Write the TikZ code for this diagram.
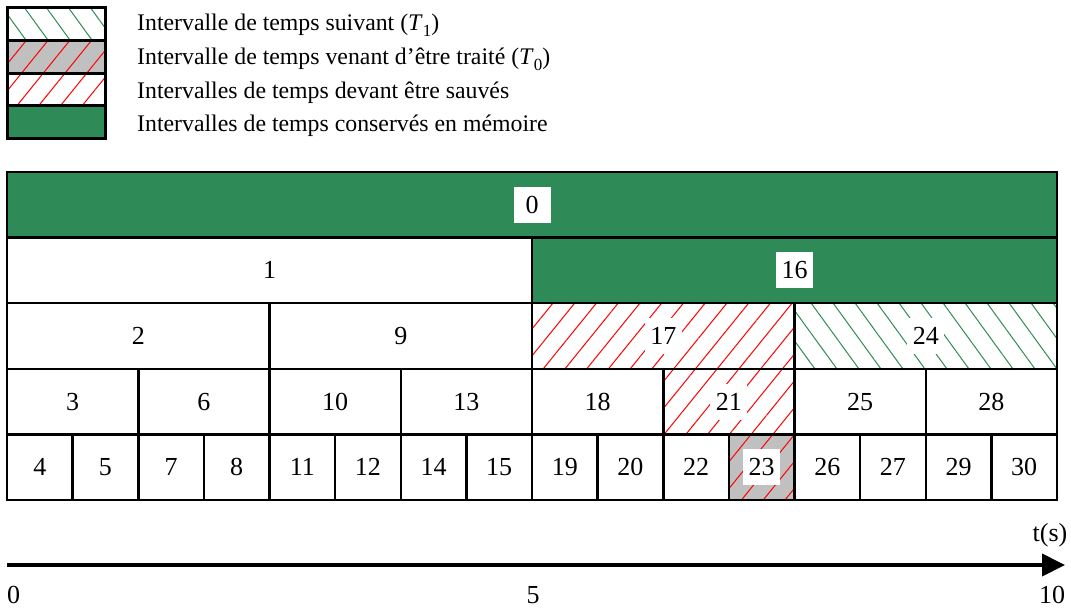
\documentclass[tikz,border=0pt]{standalone}
\usepackage{fontspec}
\setmainfont{Liberation Serif}
\usetikzlibrary{patterns.meta,arrows.meta}
\definecolor{memgreen}{HTML}{2E8B57}
\definecolor{tgrey}{HTML}{C0C0C0}
\tikzset{
  cellbox/.style={draw=black, line width=2.5pt, minimum height=65.6pt, inner sep=0pt, outer sep=0pt},
  lab/.style={fill=white, inner sep=1pt, minimum width=37pt, minimum height=36pt, font=\fontsize{26}{30}\selectfont},
  kept/.style={fill=memgreen},
  saved/.style={pattern={Lines[angle=51,distance=16.9pt,line width=1pt]}, pattern color=red},
  nexthatch/.style={pattern={Lines[angle=-54,distance=17.8pt,line width=1pt]}, pattern color=memgreen},
  done/.style={preaction={fill=tgrey}, pattern={Lines[angle=51,distance=16.9pt,line width=1pt]}, pattern color=red},
  legbox/.style={draw=black, line width=3pt, minimum width=98pt, minimum height=32.6pt, inner sep=0pt},
  legtext/.style={anchor=west, inner sep=0pt, text height=17pt, text depth=5pt, font=\fontsize{23.8}{28}\selectfont},
  axlab/.style={inner sep=0pt, font=\fontsize{26}{30}\selectfont},
}
\newcommand\mycell[6]{%
  \node[cellbox, minimum width={#3*65.625pt}, #5] (c#1) at ({7+(#2+#3/2)*65.625},{172+(#4+0.5)*65.6}) {};
  \node[lab] (l#1) at (c#1) {#6};
}
\begin{document}
\begin{tikzpicture}[x=1pt,y=-1pt]
\useasboundingbox (0,0) rectangle (1071,610);
% legend
\node[legbox, nexthatch] (k1) at (56.5,24.3) {};
\node[legbox, done] (k2) at (56.5,56.9) {};
\node[legbox, saved] (k3) at (56.5,89.5) {};
\node[legbox, kept] (k4) at (56.5,122.1) {};
\node[legtext] (t1) at (137,25) {Intervalle de temps suivant (\textit{T}\raisebox{-0.22em}{\fontsize{17}{17}\selectfont 1})};
\node[legtext] (t2) at (137,59) {Intervalle de temps venant d’être traité (\textit{T}\raisebox{-0.22em}{\fontsize{17}{17}\selectfont 0})};
\node[legtext] (t3) at (137,92) {Intervalles de temps devant être sauvés};
\node[legtext] (t4) at (137,125) {Intervalles de temps conservés en mémoire};
% tree of intervals
\mycell{0}{0}{16}{0}{kept}{0}
\mycell{1}{0}{8}{1}{}{1}
\mycell{16}{8}{8}{1}{kept}{16}
\mycell{2}{0}{4}{2}{}{2}
\mycell{9}{4}{4}{2}{}{9}
\mycell{17}{8}{4}{2}{saved}{17}
\mycell{24}{12}{4}{2}{nexthatch}{24}
\mycell{3}{0}{2}{3}{}{3}
\mycell{6}{2}{2}{3}{}{6}
\mycell{10}{4}{2}{3}{}{10}
\mycell{13}{6}{2}{3}{}{13}
\mycell{18}{8}{2}{3}{}{18}
\mycell{21}{10}{2}{3}{saved}{21}
\mycell{25}{12}{2}{3}{}{25}
\mycell{28}{14}{2}{3}{}{28}
\mycell{4}{0}{1}{4}{}{4}
\mycell{5}{1}{1}{4}{}{5}
\mycell{7}{2}{1}{4}{}{7}
\mycell{8}{3}{1}{4}{}{8}
\mycell{11}{4}{1}{4}{}{11}
\mycell{12}{5}{1}{4}{}{12}
\mycell{14}{6}{1}{4}{}{14}
\mycell{15}{7}{1}{4}{}{15}
\mycell{19}{8}{1}{4}{}{19}
\mycell{20}{9}{1}{4}{}{20}
\mycell{22}{10}{1}{4}{}{22}
\mycell{23}{11}{1}{4}{done}{23}
\mycell{26}{12}{1}{4}{}{26}
\mycell{27}{13}{1}{4}{}{27}
\mycell{29}{14}{1}{4}{}{29}
\mycell{30}{15}{1}{4}{}{30}
% time axis
\coordinate (a0) at (7,565);
\coordinate (a1) at (1065,565);
\draw[line width=4pt, -{Triangle[length=23pt,width=22pt]}] (a0) -- (a1);
\node[axlab] (z0) at (13.5,595) {0};
\node[axlab] (z5) at (533,595) {5};
\node[axlab] (z10) at (1052,595) {10};
\node[axlab] (ts) at (1050,535) {t(s)};
\end{tikzpicture}
\end{document}
